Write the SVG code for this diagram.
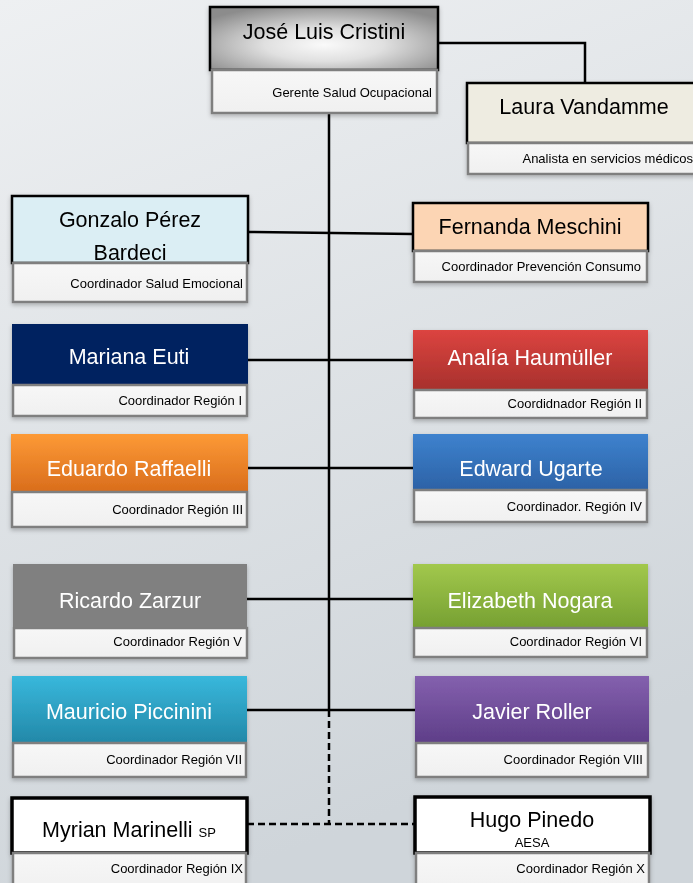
<svg xmlns="http://www.w3.org/2000/svg" width="693" height="883" viewBox="0 0 693 883">
<style>
.h{font-family:"Liberation Sans",Arial,sans-serif;font-size:21.5px;text-anchor:middle}
.s{font-family:"Liberation Sans",Arial,sans-serif;font-size:13px;text-anchor:end;fill:#000}
.w{fill:#fff}
.k{fill:#000}
.sub{fill:url(#gsub);stroke:#7f7f7f;stroke-width:2.5}
.bd{stroke:#000;stroke-width:2.5}
.bd3{stroke:#000;stroke-width:3.5}
.ln{stroke:#000;stroke-width:2.5;fill:none}
.dl{stroke:#000;stroke-width:2.5;fill:none;stroke-dasharray:7,4}
</style>
<defs>
<linearGradient id="bg" x1="0" y1="0" x2="0.3" y2="1"><stop offset="0" stop-color="#eef0f2"/><stop offset="1" stop-color="#cfd5da"/></linearGradient>
<linearGradient id="gsub" x1="0" y1="0" x2="0" y2="1"><stop offset="0" stop-color="#f7f7f7"/><stop offset="1" stop-color="#f0f0f0"/></linearGradient>
<radialGradient id="gjose" cx="0.5" cy="0.6" r="0.65"><stop offset="0" stop-color="#fafafa"/><stop offset="0.4" stop-color="#e0e0e0"/><stop offset="1" stop-color="#8c8c8c"/></radialGradient>
<linearGradient id="gred" x1="0" y1="0" x2="0" y2="1"><stop offset="0" stop-color="#dc4440"/><stop offset="1" stop-color="#a7302c"/></linearGradient>
<linearGradient id="gor" x1="0" y1="0" x2="0" y2="1"><stop offset="0" stop-color="#fd9a36"/><stop offset="1" stop-color="#d96d1c"/></linearGradient>
<linearGradient id="gbl" x1="0" y1="0" x2="0" y2="1"><stop offset="0" stop-color="#3e82ce"/><stop offset="1" stop-color="#2c62a6"/></linearGradient>
<linearGradient id="ggr" x1="0" y1="0" x2="0" y2="1"><stop offset="0" stop-color="#a2c84c"/><stop offset="1" stop-color="#76a032"/></linearGradient>
<linearGradient id="gcy" x1="0" y1="0" x2="0" y2="1"><stop offset="0" stop-color="#38b8dc"/><stop offset="1" stop-color="#2388a8"/></linearGradient>
<linearGradient id="gpu" x1="0" y1="0" x2="0" y2="1"><stop offset="0" stop-color="#8460ae"/><stop offset="1" stop-color="#5e3e88"/></linearGradient>
<filter id="sh" x="-5%" y="-10%" width="110%" height="130%"><feDropShadow dx="0" dy="2" stdDeviation="2" flood-color="#000" flood-opacity="0.25"/></filter>
</defs>
<rect width="693" height="883" fill="url(#bg)"/>
<g id="connectors">
<path class="ln" d="M329,113 V710"/>
<path class="dl" d="M329,710 V824"/>
<path class="dl" d="M247,824 H415"/>
<path class="ln" d="M438,43 H585 V83"/>
<path class="ln" d="M248,232 L413,234"/>
<path class="ln" d="M248,360 H413"/>
<path class="ln" d="M248,468 H413"/>
<path class="ln" d="M247,599 H413"/>
<path class="ln" d="M247,710 H415"/>
</g>
<g id="jose" filter="url(#sh)">
<rect x="210" y="7" width="228" height="63" fill="url(#gjose)" class="bd"/>
<rect x="212" y="70" width="225" height="43" class="sub"/>
<text class="h k" x="324" y="39">José Luis Cristini</text>
<text class="s" x="432" y="97">Gerente Salud Ocupacional</text>
</g>
<g id="laura" filter="url(#sh)">
<rect x="467" y="83" width="240" height="60" fill="#eeece1" class="bd"/>
<rect x="468" y="143" width="235" height="31" class="sub"/>
<text class="h k" x="584" y="114">Laura Vandamme</text>
<text class="s" x="693" y="163">Analista en servicios médicos</text>
</g>
<g id="gonzalo" filter="url(#sh)">
<rect x="12" y="196" width="236" height="67" fill="#dbeef4" class="bd"/>
<rect x="13" y="263" width="234" height="39" class="sub"/>
<text class="h k" x="130" y="227">Gonzalo Pérez</text>
<text class="h k" x="130" y="260">Bardeci</text>
<text class="s" x="243" y="288">Coordinador Salud Emocional</text>
</g>
<g id="fernanda" filter="url(#sh)">
<rect x="413" y="203" width="235" height="48" fill="#fcd5b4" class="bd"/>
<rect x="414" y="251" width="233" height="31" class="sub"/>
<text class="h k" x="530" y="234">Fernanda Meschini</text>
<text class="s" x="641" y="271">Coordinador Prevención Consumo</text>
</g>
<g id="mariana" filter="url(#sh)">
<rect x="12" y="324" width="236" height="61" fill="#002060"/>
<rect x="13" y="385" width="234" height="31" class="sub"/>
<text class="h w" x="129" y="364">Mariana Euti</text>
<text class="s" x="242" y="405">Coordinador Región I</text>
</g>
<g id="analia" filter="url(#sh)">
<rect x="413" y="330" width="235" height="60" fill="url(#gred)"/>
<rect x="414" y="390" width="233" height="28" class="sub"/>
<text class="h w" x="530" y="365">Analía Haumüller</text>
<text class="s" x="642" y="408">Coordidnador Región II</text>
</g>
<g id="eduardo" filter="url(#sh)">
<rect x="11" y="434" width="237" height="58" fill="url(#gor)"/>
<rect x="12" y="492" width="235" height="35" class="sub"/>
<text class="h w" x="129" y="476">Eduardo Raffaelli</text>
<text class="s" x="243" y="514">Coordinador Región III</text>
</g>
<g id="edward" filter="url(#sh)">
<rect x="413" y="434" width="235" height="56" fill="url(#gbl)"/>
<rect x="414" y="490" width="233" height="32" class="sub"/>
<text class="h w" x="531" y="476">Edward Ugarte</text>
<text class="s" x="642" y="511">Coordinador. Región IV</text>
</g>
<g id="ricardo" filter="url(#sh)">
<rect x="13" y="564" width="234" height="64" fill="#808080"/>
<rect x="14" y="628" width="233" height="30" class="sub"/>
<text class="h w" x="130" y="608">Ricardo Zarzur</text>
<text class="s" x="242" y="646">Coordinador Región V</text>
</g>
<g id="elizabeth" filter="url(#sh)">
<rect x="413" y="564" width="235" height="64" fill="url(#ggr)"/>
<rect x="414" y="628" width="233" height="29" class="sub"/>
<text class="h w" x="530" y="608">Elizabeth Nogara</text>
<text class="s" x="642" y="646">Coordinador Región VI</text>
</g>
<g id="mauricio" filter="url(#sh)">
<rect x="12" y="676" width="235" height="67" fill="url(#gcy)"/>
<rect x="13" y="743" width="233" height="34" class="sub"/>
<text class="h w" x="129" y="719">Mauricio Piccinini</text>
<text class="s" x="242" y="764">Coordinador Región VII</text>
</g>
<g id="javier" filter="url(#sh)">
<rect x="415" y="676" width="234" height="67" fill="url(#gpu)"/>
<rect x="416" y="743" width="232" height="34" class="sub"/>
<text class="h w" x="532" y="719">Javier Roller</text>
<text class="s" x="643" y="764">Coordinador Región VIII</text>
</g>
<g id="myrian" filter="url(#sh)">
<rect x="12" y="798" width="235" height="55" fill="#fff" class="bd3"/>
<rect x="13" y="853" width="233" height="40" class="sub"/>
<text class="h k" x="129" y="837">Myrian Marinelli <tspan style="font-size:13px">SP</tspan></text>
<text class="s" x="243" y="873">Coordinador Región IX</text>
</g>
<g id="hugo" filter="url(#sh)">
<rect x="415" y="797" width="235" height="56" fill="#fff" class="bd3"/>
<rect x="416" y="853" width="233" height="40" class="sub"/>
<text class="h k" x="532" y="827">Hugo Pinedo</text>
<text class="h k" x="532" y="847" style="font-size:13px">AESA</text>
<text class="s" x="645" y="873">Coordinador Región X</text>
</g>
</svg>
